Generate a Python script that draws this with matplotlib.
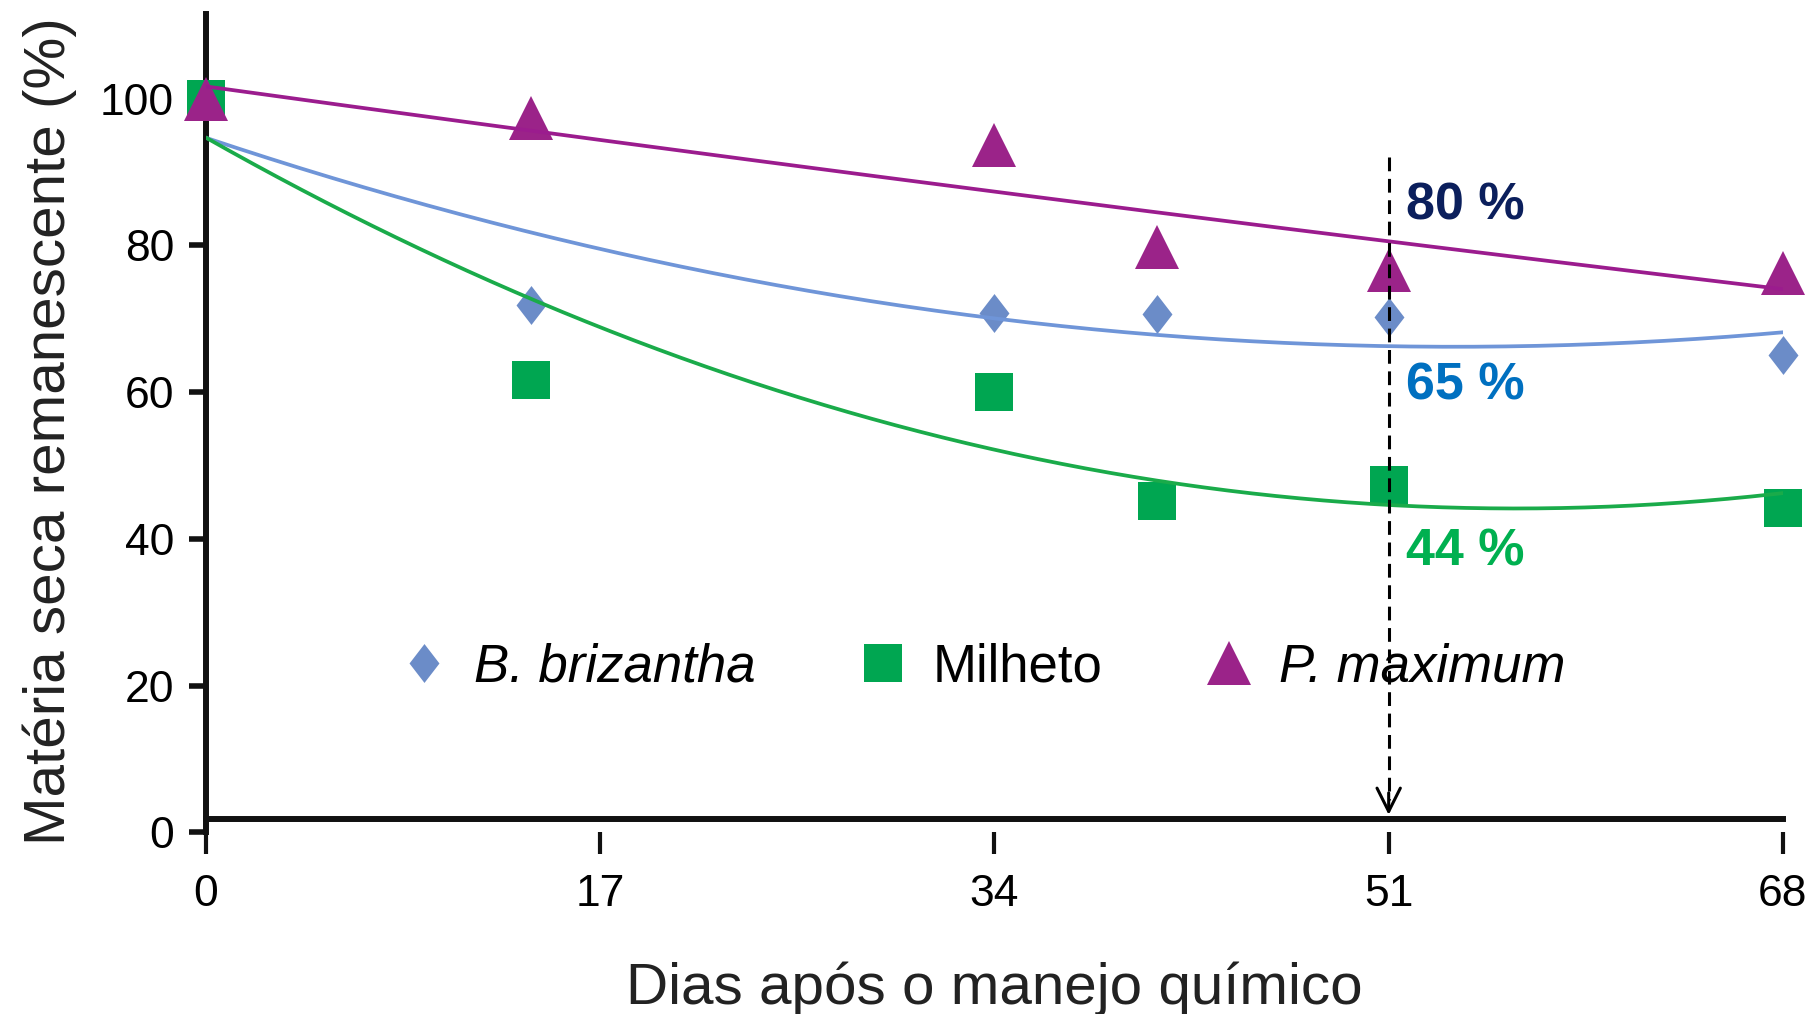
"""
Matéria seca remanescente de palhadas ao longo dos dias após o manejo químico
"""

import matplotlib.pyplot as plt
import numpy as np
from matplotlib.lines import Line2D

plt.rcParams['font.family'] = ['Liberation Sans', 'DejaVu Sans']

# dados
dias = [0, 14, 34, 41, 51, 68]
brizantha = [100, 71.9, 70.8, 70.6, 70.3, 65.1]
milheto = [100, 61.6, 60.0, 45.2, 47.4, 44.2]
maximum = [100, 97.3, 93.7, 79.8, 76.6, 76.3]

x_ticks = [0, 17, 34, 51, 68]
y_ticks = [0, 20, 40, 60, 80, 100]

dia_ref = 51
seta_topo = 92.1
seta_base = 2.4
rotulos = ['80 %', '65 %', '44 %']
rotulos_y = [85.4, 60.8, 38.2]
rotulos_x = 51.75

cor_bri = '#6b8cc8'
cor_bri_linha = '#6f95d8'
cor_mil = '#00a651'
cor_mil_linha = '#1aab4a'
cor_max = '#9b2389'
cor_max_linha = '#9b1c8e'
cores_rotulos = ['#0b1f5c', '#0070c0', '#00b050']

# marcador losango (mais alto que largo)
losango = [(0, 1), (0.77, 0), (0, -1), (-0.77, 0), (0, 1)]


def curva(x, y, grau=2):
    """Ajuste polinomial usado para as linhas de tendência"""
    coef = np.polyfit(x, y, grau)
    xs = np.linspace(min(x), max(x), 200)
    return xs, np.polyval(coef, xs)


fig = plt.figure(figsize=(18.18, 10.14), dpi=100)
ax = fig.add_axes([0.1133, 0.179, 0.8674, 0.807])

series = [
    (brizantha, losango, 28, cor_bri, cor_bri_linha, 'B. brizantha'),
    (milheto, 's', 27, cor_mil, cor_mil_linha, 'Milheto'),
    (maximum, '^', 31, cor_max, cor_max_linha, 'P. maximum'),
]

handles = []
for vals, mk, ms, cor, cor_linha, nome in series:
    ax.plot(dias, vals, linestyle='none', marker=mk, markersize=ms,
            color=cor, markeredgewidth=0, clip_on=False, zorder=3)
    xs, ys = curva(dias, vals)
    ax.plot(xs, ys, color=cor_linha, linewidth=2.7, zorder=4)
    handles.append(Line2D([], [], linestyle='none', marker=mk, markersize=ms,
                          color=cor, markeredgewidth=0, label=nome))

# linha tracejada em 51 dias com seta
ax.plot([dia_ref, dia_ref], [seta_topo, seta_base + 2], color='black',
        linestyle=(0, (4.5, 2.5)), linewidth=2.2, zorder=5)
ax.annotate('', xy=(dia_ref, seta_base), xytext=(dia_ref, seta_base + 3),
            arrowprops=dict(arrowstyle='->', lw=2.2, color='black',
                            mutation_scale=42, shrinkA=0, shrinkB=0),
            zorder=5)

for txt, yy, cor in zip(rotulos, rotulos_y, cores_rotulos):
    ax.text(rotulos_x, yy, txt, color=cor, fontsize=37.5, fontweight='bold',
            ha='left', va='center', zorder=6)

leg = ax.legend(handles=handles, ncol=3, frameon=False, loc='center left',
                bbox_to_anchor=(0.125, 0.202), borderpad=0, borderaxespad=0,
                handlelength=0.8, handletextpad=0.55, columnspacing=2.0,
                fontsize=38)
for t in leg.get_texts():
    if t.get_text() != 'Milheto':
        t.set_fontstyle('italic')

# eixos
ax.set_xlim(0, 68)
ax.set_ylim(0, 111.5)
ax.set_xticks(x_ticks)
ax.set_yticks(y_ticks)
ax.tick_params(axis='y', direction='out', length=12, width=4, pad=11,
               labelsize=32, color='#111111')
ax.tick_params(axis='x', direction='out', length=16, width=3, pad=14,
               labelsize=32, color='#111111')
for lado in ['top', 'right', 'bottom']:
    ax.spines[lado].set_visible(False)
ax.spines['left'].set_linewidth(4.3)
ax.spines['left'].set_color('#111111')
ax.axhline(1.9, color='#111111', linewidth=4.3, clip_on=False, zorder=2)

ax.set_ylabel('Matéria seca remanescente (%)', fontsize=42, color='#222222')
ax.set_xlabel('Dias após o manejo químico', fontsize=42, color='#222222')
ax.yaxis.set_label_coords(-0.082, 0.49)
ax.xaxis.set_label_coords(0.5, -0.158)

plt.savefig('out.png', dpi=100)
